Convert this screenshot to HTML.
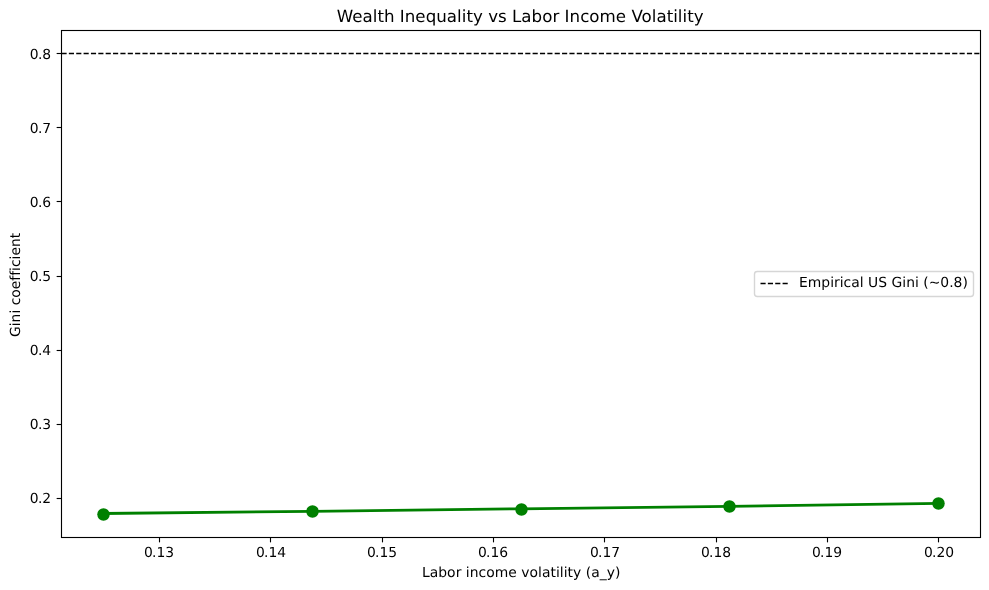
<!DOCTYPE html>
<html lang="en">
<head>
<meta charset="utf-8">
<title>Wealth Inequality vs Labor Income Volatility</title>
<style>
  html, body { margin: 0; padding: 0; background: #ffffff; }
  body { width: 989px; height: 590px; overflow: hidden; }
  svg { display: block; }
  text { font-family: "DejaVu Sans", "Liberation Sans", sans-serif; fill: #000000; text-rendering: geometricPrecision; font-variant-ligatures: none; font-feature-settings: "liga" 0, "clig" 0, "dlig" 0; white-space: pre; }
  .t10 { font-size: 13.889px; }
  .t12 { font-size: 16.667px; }
</style>
</head>
<body>
<svg width="989" height="590" viewBox="0 0 989 590">
  <rect x="0" y="0" width="989" height="590" fill="#ffffff"/>

  <!-- data line -->
  <polyline points="103.0,513.5 311.9,511.4 520.75,508.8 729.4,506.3 938.4,503.3"
            fill="none" stroke="#008000" stroke-width="2.778" stroke-linecap="square" stroke-linejoin="round"/>
  <!-- markers -->
  <g fill="#008000">
    <circle cx="103.5" cy="514.5" r="6.25"/>
    <circle cx="312.5" cy="511.5" r="6.25"/>
    <circle cx="521.5" cy="509.5" r="6.25"/>
    <circle cx="729.5" cy="506.5" r="6.25"/>
    <circle cx="938.5" cy="503.5" r="6.25"/>
  </g>

  <!-- dashed reference line at 0.8 -->
  <line x1="61.5" y1="53.5" x2="980.5" y2="53.5" stroke="#000000" stroke-width="1.389" stroke-dasharray="5.139 2.222"/>

  <!-- x ticks -->
  <g stroke="#000000" stroke-width="1.111">
    <line x1="159.5" y1="537.5" x2="159.5" y2="542.36"/>
    <line x1="270.5" y1="537.5" x2="270.5" y2="542.36"/>
    <line x1="382.5" y1="537.5" x2="382.5" y2="542.36"/>
    <line x1="493.5" y1="537.5" x2="493.5" y2="542.36"/>
    <line x1="604.5" y1="537.5" x2="604.5" y2="542.36"/>
    <line x1="716.5" y1="537.5" x2="716.5" y2="542.36"/>
    <line x1="827.5" y1="537.5" x2="827.5" y2="542.36"/>
    <line x1="938.5" y1="537.5" x2="938.5" y2="542.36"/>
  </g>
  <!-- y ticks -->
  <g stroke="#000000" stroke-width="1.111">
    <line x1="61.5" y1="53.5" x2="56.64" y2="53.5"/>
    <line x1="61.5" y1="127.5" x2="56.64" y2="127.5"/>
    <line x1="61.5" y1="201.5" x2="56.64" y2="201.5"/>
    <line x1="61.5" y1="276.5" x2="56.64" y2="276.5"/>
    <line x1="61.5" y1="350.5" x2="56.64" y2="350.5"/>
    <line x1="61.5" y1="424.5" x2="56.64" y2="424.5"/>
    <line x1="61.5" y1="498.5" x2="56.64" y2="498.5"/>
  </g>

  <!-- axes frame (spines) -->
  <rect x="61.5" y="30.5" width="919" height="507" fill="none" stroke="#000000" stroke-width="1.111" stroke-linejoin="miter"/>

  <!-- x tick labels -->
  <g class="t10">
    <text x="144" y="557" dx="0 -0.8">0.13</text>
    <text x="256" y="557" dx="0 -0.8">0.14</text>
    <text x="367" y="557" dx="0 -0.8">0.15</text>
    <text x="478" y="557" dx="0 -0.8">0.16</text>
    <text x="590" y="557" dx="0 -0.8">0.17</text>
    <text x="701" y="557" dx="0 -0.8">0.18</text>
    <text x="812" y="557" dx="0 -0.8">0.19</text>
    <text x="924" y="557" dx="0 -0.8">0.20</text>
  </g>
  <!-- y tick labels -->
  <g class="t10">
    <text x="29.86" y="59" dx="0 -0.8">0.8</text>
    <text x="29.86" y="133" dx="0 -0.8">0.7</text>
    <text x="29.86" y="207" dx="0 -0.8">0.6</text>
    <text x="29.86" y="281" dx="0 -0.8">0.5</text>
    <text x="29.86" y="355" dx="0 -0.8">0.4</text>
    <text x="29.86" y="429" dx="0 -0.8">0.3</text>
    <text x="29.86" y="503" dx="0 -0.8">0.2</text>
  </g>

  <!-- axis labels -->
  <text class="t10" x="422.0" y="577" textLength="198.3" lengthAdjust="spacing">Labor income volatility (a_y)</text>
  <text class="t10" transform="translate(20,284.9) rotate(-90)" text-anchor="middle">Gini coefficient</text>

  <!-- title -->
  <text class="t12" x="336.7" y="22" textLength="366.9" lengthAdjust="spacing">Wealth Inequality vs Labor Income Volatility</text>

  <!-- legend -->
  <rect x="754.5" y="271.5" width="219" height="25" rx="2.78" ry="2.78" fill="#ffffff" fill-opacity="0.8" stroke="#cccccc" stroke-opacity="0.8" stroke-width="1.389"/>
  <line x1="760.5" y1="283.5" x2="788.28" y2="283.5" stroke="#000000" stroke-width="1.389" stroke-dasharray="5.139 2.222"/>
  <text class="t10" x="799" y="287" textLength="168.85" lengthAdjust="spacing">Empirical US Gini (~0.8)</text>
</svg>
</body>
</html>
